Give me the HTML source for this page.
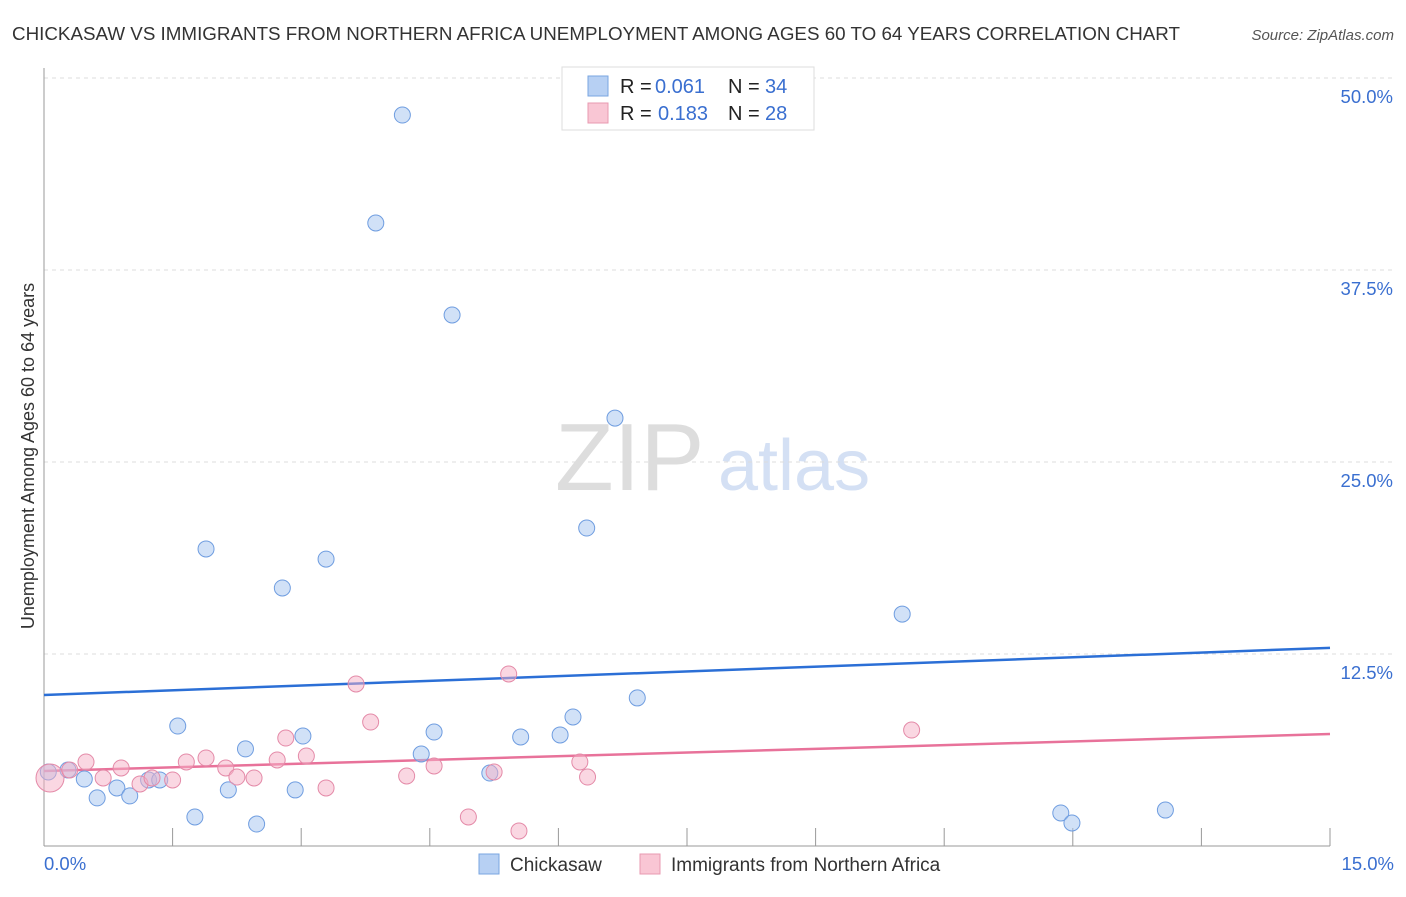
<!DOCTYPE html>
<html><head><meta charset="utf-8"><style>
body{margin:0;background:#fff;font-family:"Liberation Sans",sans-serif;}
svg text{font-family:"Liberation Sans",sans-serif;}
</style></head><body>
<svg id="chart" width="1406" height="892" xmlns="http://www.w3.org/2000/svg">
<text x="12" y="40" font-size="18" fill="#333" textLength="1168" lengthAdjust="spacingAndGlyphs">CHICKASAW VS IMMIGRANTS FROM NORTHERN AFRICA UNEMPLOYMENT AMONG AGES 60 TO 64 YEARS CORRELATION CHART</text>
<text x="1394" y="40" font-size="15" font-style="italic" fill="#555" text-anchor="end">Source: ZipAtlas.com</text>
<text x="555" y="490" font-size="96" fill="#ddd" font-family="Liberation Serif">ZIP</text>
<text x="718" y="490" font-size="72" fill="#d4e0f4">atlas</text>
<text transform="translate(34,456) rotate(-90)" font-size="18" fill="#333" text-anchor="middle">Unemployment Among Ages 60 to 64 years</text>
<g id="grid"></g><g id="axes"></g><g id="lines"></g><g id="points"></g>
<g>
<rect x="562" y="67" width="252" height="63" fill="#fff" stroke="#ddd"/>
<rect x="588" y="76" width="20" height="20" fill="#b7d0f3" stroke="#7aa6e0"/>
<text x="620" y="93" font-size="20" fill="#222">R =</text>
<text x="655" y="93" font-size="20" fill="#3a6fd0">0.061</text>
<text x="728" y="93" font-size="20" fill="#222">N =</text>
<text x="765" y="93" font-size="20" fill="#3a6fd0">34</text>
<rect x="588" y="103" width="20" height="20" fill="#f9c6d4" stroke="#e89ab0"/>
<text x="620" y="120" font-size="20" fill="#222">R =</text>
<text x="658" y="120" font-size="20" fill="#3a6fd0">0.183</text>
<text x="728" y="120" font-size="20" fill="#222">N =</text>
<text x="765" y="120" font-size="20" fill="#3a6fd0">28</text>
</g>
<g>
<rect x="479" y="854" width="20" height="20" fill="#b7d0f3" stroke="#7aa6e0"/>
<text x="510" y="871" font-size="19" fill="#333">Chickasaw</text>
<rect x="640" y="854" width="20" height="20" fill="#f9c6d4" stroke="#e89ab0"/>
<text x="671" y="871" font-size="19" fill="#333">Immigrants from Northern Africa</text>
</g>
</svg>
<script>
const yTicks=[12.5,25,37.5,50];
const yTickLabels=["12.5%","25.0%","37.5%","50.0%"];
const blueX=[0.05,0.28,0.47,0.62,0.85,1.00,1.22,1.35,1.56,1.76,1.89,2.15,2.35,2.48,2.78,2.93,3.02,3.29,3.87,4.18,4.40,4.55,4.76,5.20,5.56,6.02,6.17,6.33,6.66,6.92,10.01,11.86,11.99,13.08];
const blueY=[4.82,4.95,4.36,3.13,3.78,3.26,4.30,4.30,7.81,1.89,19.34,3.65,6.32,1.43,16.80,3.65,7.16,18.68,40.56,47.59,5.99,7.42,34.57,4.75,7.10,7.23,8.40,20.70,27.86,9.64,15.10,2.15,1.50,2.34];
const pinkX=[0.07,0.30,0.49,0.69,0.90,1.12,1.26,1.50,1.66,1.89,2.12,2.25,2.45,2.72,2.82,3.06,3.29,3.64,3.81,4.23,4.55,4.95,5.25,5.42,5.54,6.25,6.34,10.12];
const pinkY=[4.43,4.95,5.47,4.43,5.08,4.04,4.43,4.30,5.47,5.73,5.08,4.49,4.43,5.60,7.03,5.86,3.78,10.55,8.07,4.56,5.21,1.89,4.82,11.20,0.98,5.47,4.49,7.55];
const blueTrend=[9.83,12.9];
const pinkTrend=[4.88,7.29];
const NS="http://www.w3.org/2000/svg";
const X0=44,X1=1330,Y0=846,YT=78;
const xs=v=>X0+v/15*(X1-X0);
const ys=v=>Y0-v/50*(Y0-YT);
function mk(t,a,p){const e=document.createElementNS(NS,t);for(const k in a)e.setAttribute(k,a[k]);p.appendChild(e);return e;}
const grid=document.getElementById('grid'),axes=document.getElementById('axes');
yTicks.forEach((t,i)=>{
 const l=mk('line',{x1:X0,x2:1394,y1:ys(t),y2:ys(t),stroke:'#ddd','stroke-dasharray':'4,4'},grid);
 
 
 const tx=mk('text',{x:1393,y:ys(t)+25,'font-size':18.5,fill:'#3a6fd0','text-anchor':'end'},grid);
 tx.textContent=yTickLabels[i];
 
 
});
const ax=mk('line',{x1:X0,x2:X0,y1:68,y2:Y0,stroke:'#999'},axes);


const bx=mk('line',{x1:X0,x2:X1,y1:Y0,y2:Y0,stroke:'#999'},axes);


for(let i=0;i<=10;i++){
 const t=mk('line',{x1:xs(i*1.5),x2:xs(i*1.5),y1:828,y2:Y0,stroke:'#999'},axes);
 
 
}
[[0,"0.0%","start",44],[15,"15.0%","end",1394]].forEach(d=>{
 const t=mk('text',{x:d[3],y:870,'font-size':18.5,fill:'#3a6fd0','text-anchor':d[2]},axes);
 t.textContent=d[1];
 
 
});
const lines=document.getElementById('lines'),pts=document.getElementById('points');
function series(X,Y,fill,stroke,name){
 X.forEach((x,i)=>{
  const c=mk('circle',{cx:xs(x),cy:ys(Y[i]),r:(i==0&&name=='immigrants')?14:8,fill:fill,stroke:stroke,'stroke-width':1},pts);
  
  
 });
}
series(blueX,blueY,'rgba(164,196,240,0.5)','#6f9de0','chickasaw');
series(pinkX,pinkY,'rgba(245,175,198,0.5)','#e48aa8','immigrants');
const bl=mk('line',{x1:X0,x2:X1,y1:ys(blueTrend[0]),y2:ys(blueTrend[1]),stroke:'#2b6fd6','stroke-width':2.5},lines);


const pl=mk('line',{x1:X0,x2:X1,y1:ys(pinkTrend[0]),y2:ys(pinkTrend[1]),stroke:'#e8729a','stroke-width':2.5},lines);


</script>
</body></html>
